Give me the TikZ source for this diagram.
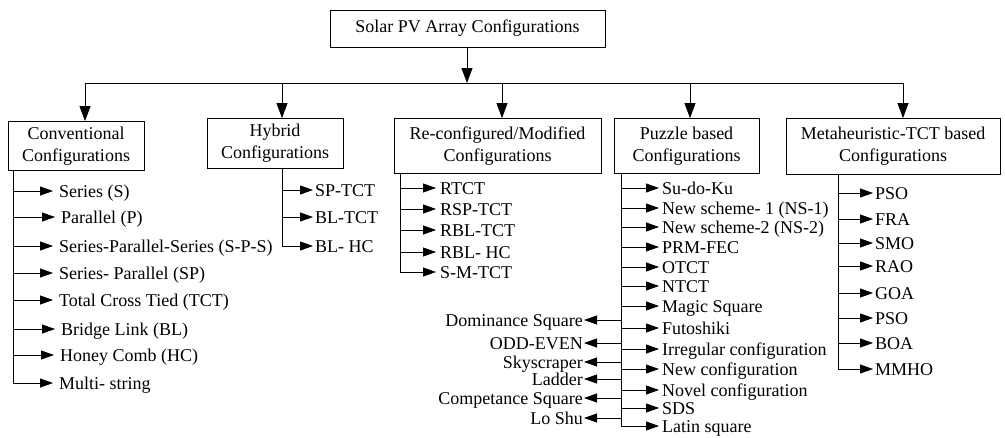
\documentclass[tikz,border=0pt]{standalone}
\usepackage{fontspec}
\setmainfont{Liberation Serif}
\usetikzlibrary{arrows.meta}
\begin{document}
\begin{tikzpicture}[x=1pt,y=-1pt,
 box/.style={draw, line width=0.8pt, align=center, inner sep=0pt, font=\fontsize{18}{22}\selectfont},
 item/.style={inner sep=0pt, anchor=west, text height=12pt, text depth=0pt, font=\fontsize{18}{22}\selectfont},
 litem/.style={item, anchor=east},
 ln/.style={line width=0.8pt},
 varr/.style={ln, -{Triangle[length=15pt,width=11pt]}},
 harr/.style={ln, -{Triangle[length=13pt,width=9pt]}},
]
\useasboundingbox (0,0) rectangle (1005,437);

% boxes
\node[box, minimum width=275pt, minimum height=37pt] (root) at (467.5,28.5) {Solar PV Array Configurations};
\node[box, minimum width=136pt, minimum height=49pt] (conv) at (76,146) {Conventional\\Configurations};
\node[box, minimum width=136pt, minimum height=50pt] (hyb) at (275,143.5) {Hybrid\\Configurations};
\node[box, minimum width=207pt, minimum height=55pt] (rec) at (497.5,146) {Re-configured/Modified\\Configurations};
\node[box, minimum width=145pt, minimum height=55pt] (puz) at (686.5,146) {Puzzle based\\Configurations};
\node[box, minimum width=214pt, minimum height=56pt] (meta) at (893,146.5) {Metaheuristic-TCT based\\Configurations};

% distribution line
\coordinate (j0) at (467,83);
\coordinate (ja) at (85,83);
\coordinate (jb) at (282,83);
\coordinate (jc) at (502,83);
\coordinate (jd) at (690,83);
\coordinate (je) at (903,83);
\draw[varr] (root.south -| j0) -- (j0);
\draw[ln] (ja) -- (je);
\draw[varr] (ja) -- (ja |- conv.north);
\draw[varr] (jb) -- (jb |- hyb.north);
\draw[varr] (jc) -- (jc |- rec.north);
\draw[varr] (jd) -- (jd |- puz.north);
\draw[varr] (je) -- (je |- meta.north);

% Conventional
\node[item] (c1) at (59,191) {Series (S)};
\node[item] (c2) at (61,217) {Parallel (P)};
\node[item] (c3) at (59,246) {Series-Parallel-Series (S-P-S)};
\node[item] (c4) at (59,273) {Series- Parallel (SP)};
\node[item] (c5) at (59,300) {Total Cross Tied (TCT)};
\node[item] (c6) at (61,329) {Bridge Link (BL)};
\node[item] (c7) at (60,355) {Honey Comb (HC)};
\node[item] (c8) at (59,383) {Multi- string};
\coordinate (ct) at ([xshift=6pt]conv.south west);
\foreach \n in {c1,c2,c3,c4,c5,c6,c7}
  \draw[harr, shorten >=6pt] (ct |- \n.west) -- (\n.west);
\draw[harr, shorten >=6pt] (ct) |- (c8.west);

% Hybrid
\node[item] (h1) at (315,190) {SP-TCT};
\node[item] (h2) at (315,217) {BL-TCT};
\node[item] (h3) at (315,246) {BL- HC};
\coordinate (ht) at (hyb.south -| jb);
\foreach \n in {h1,h2}
  \draw[harr, shorten >=2pt] (ht |- \n.west) -- (\n.west);
\draw[harr, shorten >=2pt] (ht) |- (h3.west);

% Re-configured
\node[item] (r1) at (440,188) {RTCT};
\node[item] (r2) at (440,209) {RSP-TCT};
\node[item] (r3) at (440,230) {RBL-TCT};
\node[item] (r4) at (440,252) {RBL- HC};
\node[item] (r5) at (440,272) {S-M-TCT};
\coordinate (rt) at ([xshift=7pt]rec.south west);
\foreach \n in {r1,r2,r3,r4}
  \draw[harr, shorten >=4pt] (rt |- \n.west) -- (\n.west);
\draw[harr, shorten >=4pt] (rt) |- (r5.west);

% Puzzle based (right)
\node[item] (p1) at (662,188) {Su-do-Ku};
\node[item] (p2) at (662,208) {New scheme- 1 (NS-1)};
\node[item] (p3) at (662,227) {New scheme-2 (NS-2)};
\node[item] (p4) at (662,247) {PRM-FEC};
\node[item] (p5) at (662,267) {OTCT};
\node[item] (p6) at (662,286) {NTCT};
\node[item] (p7) at (662,306) {Magic Square};
\node[item] (p8) at (662,328) {Futoshiki};
\node[item] (p9) at (662,349) {Irregular configuration};
\node[item] (p10) at (662,369) {New configuration};
\node[item] (p11) at (662,390) {Novel configuration};
\node[item] (p12) at (662,408) {SDS};
\node[item] (p13) at (662,426) {Latin square};
\coordinate (pt) at ([xshift=8pt]puz.south west);
\foreach \n in {p1,p2,p3,p4,p5,p6,p7,p8,p9,p10,p11,p12}
  \draw[harr, shorten >=3pt] (pt |- \n.west) -- (\n.west);
\draw[harr, shorten >=3pt] (pt) |- (p13.west);

% Puzzle based (left)
\node[litem] (q1) at (583,320) {Dominance Square};
\node[litem] (q2) at (583,343) {ODD-EVEN};
\node[litem] (q3) at (583,362) {Skyscraper};
\node[litem] (q4) at (583,379) {Ladder};
\node[litem] (q5) at (583,398) {Competance Square};
\node[litem] (q6) at (583,418) {Lo Shu};
\foreach \n in {q1,q2,q3,q4,q5,q6}
  \draw[harr, shorten >=1pt] (pt |- \n.east) -- (\n.east);

% Metaheuristic
\node[item] (m1) at (875,193) {PSO};
\node[item] (m2) at (875,219) {FRA};
\node[item] (m3) at (875,243) {SMO};
\node[item] (m4) at (875,266) {RAO};
\node[item] (m5) at (875,293) {GOA};
\node[item] (m6) at (875,318) {PSO};
\node[item] (m7) at (875,343) {BOA};
\node[item] (m8) at (875,369) {MMHO};
\coordinate (mt) at ([xshift=53pt]meta.south west);
\foreach \n in {m1,m2,m3,m4,m5,m6,m7}
  \draw[harr, shorten >=2pt] (mt |- \n.west) -- (\n.west);
\draw[harr, shorten >=2pt] (mt) |- (m8.west);
\end{tikzpicture}
\end{document}
